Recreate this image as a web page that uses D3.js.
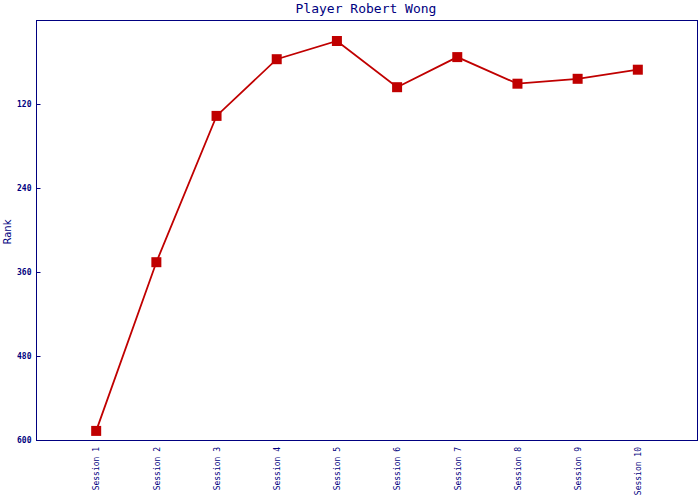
<!DOCTYPE html>
<html><head><meta charset="utf-8">
<script src="https://cdn.jsdelivr.net/npm/d3@7"></script>
<style>body{margin:0;background:#fff}svg{display:block}</style>
</head><body>
<script>
const categories = ["Session 1","Session 2","Session 3","Session 4","Session 5","Session 6","Session 7","Session 8","Session 9","Session 10"];
const ranks = [587, 346, 137, 56, 30, 96, 53, 91, 84, 71];
const yTicks = [120, 240, 360, 480, 600];
const title = "Player Robert Wong";
const yLabel = "Rank";

const W = 700, H = 500;
const m = {left: 36, right: 2, top: 20, bottom: 60};
const navy = "#000080", red = "#c00000";
const svg = d3.select("body").append("svg").attr("width", W).attr("height", H);

const x = d3.scalePoint().domain(categories).range([m.left, W - m.right]).padding(1);
const y = d3.scaleLinear().domain([0, 600]).range([m.top, H - m.bottom]);

svg.append("rect").attr("x", m.left + 0.5).attr("y", m.top + 0.5)
  .attr("width", W - m.right - m.left - 1).attr("height", H - m.bottom - m.top)
  .attr("fill", "none").attr("stroke", navy).attr("stroke-width", 1);

const ya = svg.append("g").attr("transform", `translate(${m.left + 0.5},0)`)
  .call(d3.axisLeft(y).tickValues(yTicks).tickSize(-4).tickPadding(5).tickFormat(d3.format("d")));
ya.select(".domain").remove();
ya.selectAll("line").attr("stroke", navy);
ya.selectAll("text").attr("fill", navy).attr("font-family", "DejaVu Sans Mono").attr("font-size", 8).attr("font-weight", "bold");

const xa = svg.append("g").attr("transform", `translate(0,${H - m.bottom})`)
  .call(d3.axisBottom(x).tickSize(0));
xa.select(".domain").remove();
xa.selectAll("text").attr("fill", navy).attr("font-family", "DejaVu Sans Mono").attr("font-size", 8)
  .attr("text-anchor", "end").attr("transform", "rotate(-90)").attr("x", -7).attr("y", 0).attr("dy", "0.35em");

svg.append("text").attr("x", W / 2 + 16).attr("y", 13).attr("text-anchor", "middle")
  .attr("fill", navy).attr("font-family", "DejaVu Sans Mono").attr("font-size", 13).text(title);

svg.append("text").attr("transform", `translate(11,232) rotate(-90)`).attr("text-anchor", "middle")
  .attr("fill", navy).attr("font-family", "DejaVu Sans").attr("font-size", 10).text(yLabel);

const line = d3.line().x((d, i) => x(categories[i])).y(d => y(d));
svg.append("path").datum(ranks).attr("d", line).attr("fill", "none").attr("stroke", red).attr("stroke-width", 1.8);

svg.selectAll("rect.pt").data(ranks).join("rect").attr("class", "pt")
  .attr("x", (d, i) => x(categories[i]) - 5).attr("y", d => y(d) - 5)
  .attr("width", 10).attr("height", 10).attr("fill", red);
</script>
</body></html>
